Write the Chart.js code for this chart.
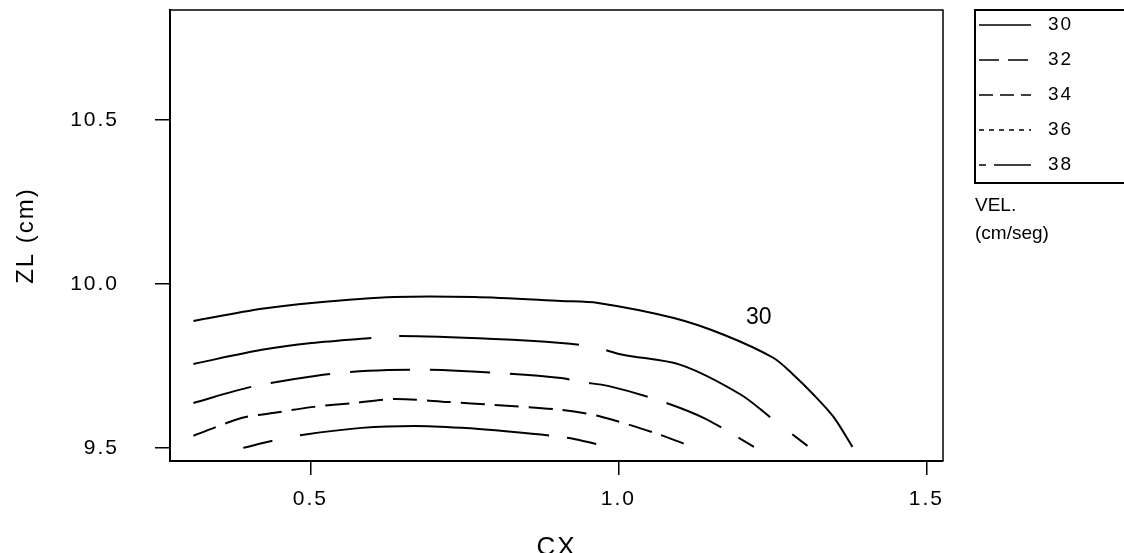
<!DOCTYPE html>
<html>
<head>
<meta charset="utf-8">
<script src="https://cdn.jsdelivr.net/npm/chart.js@4/dist/chart.umd.min.js"></script>
<style>
html,body{margin:0;padding:0;background:#fff}
#caixa{width:1124px;height:553px}
</style>
</head>
<body>
<div id="caixa"><canvas id="grafico"></canvas></div>
<script>

// isolinhas de velocidade (cm/seg), CX x ZL
let niveis = ["30","32","34","36","38"]

let cx30 = [0.310,0.421,0.502,0.636,0.766,0.907,0.967,1.090,1.171,1.252,1.284,1.317,1.349,1.380]
let zl30 = [9.887,9.924,9.942,9.960,9.960,9.948,9.942,9.896,9.845,9.774,9.723,9.662,9.595,9.503]

let cx32 = [0.310,0.421,0.502,0.599,0.644,0.798,0.907,0.959,1.007,1.101,1.199,1.252,1.307]
let zl32 = [9.756,9.799,9.820,9.835,9.841,9.832,9.820,9.808,9.784,9.753,9.662,9.585,9.506]

let cx34 = [0.310,0.404,0.510,0.594,0.691,0.798,0.907,0.939,0.983,1.064,1.139,1.220]
let zl34 = [9.637,9.686,9.720,9.735,9.738,9.729,9.713,9.701,9.689,9.646,9.591,9.503]

let cx36 = [0.310,0.388,0.442,0.505,0.571,0.636,0.724,0.798,0.907,0.972,1.058,1.121]
let zl36 = [9.537,9.591,9.607,9.625,9.637,9.649,9.640,9.631,9.616,9.595,9.546,9.503]

let cx38 = [0.391,0.437,0.489,0.583,0.669,0.745,0.826,0.891,0.928,0.983]
let zl38 = [9.500,9.521,9.540,9.561,9.567,9.561,9.549,9.537,9.527,9.503]

let ticksX = [0.5,1.0,1.5]
let ticksY = [9.5,10.0,10.5]

// rotulo da curva de 30
let rotulo = {texto:"30", cx:1.228, zl:9.896}

let tracos = [[], [180,28], [60,20], [24,10], [30,28,250,18]]
let tracosLegenda = [[], [20,9], [14,7], [5,5], [7,8,37,0]]

let series = [[cx30,zl30],[cx32,zl32],[cx34,zl34],[cx36,zl36],[cx38,zl38]]

let datasets = series.map((s,i)=>({
label: niveis[i],
data: s[0].map((x,k)=>({x:x, y:s[1][k]})),
showLine: true,
borderColor: "#000",
borderWidth: 2,
borderDash: tracos[i],
pointRadius: 0,
tension: 0.3
}))

let fonte = "'Liberation Sans', Arial, sans-serif"

let extras = {
id: "extras",
beforeDraw(chart){
chart.ctx.letterSpacing = "2px"
},
beforeDatasetsDraw(chart){
chart.ctx.letterSpacing = "0px"
},
afterDraw(chart){
let c = chart.ctx
let a = chart.chartArea
c.save()
c.letterSpacing = "0px"
c.strokeStyle = "#000"
c.lineWidth = 1.5
// lados de cima e da direita
c.beginPath()
c.moveTo(a.left, a.top)
c.lineTo(a.right, a.top)
c.lineTo(a.right, a.bottom)
c.stroke()

// rotulo "30" na curva
c.fillStyle = "#000"
c.font = "23px " + fonte
c.textAlign = "center"
c.textBaseline = "middle"
c.fillText(rotulo.texto, chart.scales.x.getPixelForValue(rotulo.cx), chart.scales.y.getPixelForValue(rotulo.zl))

// legenda
let lx = 975
c.lineWidth = 2
c.beginPath()
c.moveTo(1130, 10)
c.lineTo(lx, 10)
c.lineTo(lx, 183)
c.lineTo(1130, 183)
c.stroke()
c.font = "19px " + fonte
c.letterSpacing = "2px"
c.textAlign = "left"
niveis.forEach((n,i)=>{
let y = 25 + i*35
c.lineWidth = 1.6
c.setLineDash(tracosLegenda[i])
c.beginPath()
c.moveTo(lx+4, y)
c.lineTo(lx+56, y)
c.stroke()
c.setLineDash([])
c.fillText(n, lx+73, y)
})
c.letterSpacing = "0px"
c.font = "19px " + fonte
c.fillText("VEL.", lx, 206)
c.fillText("(cm/seg)", lx, 234)
c.restore()
}
}

let ctx = document.getElementById("grafico").getContext("2d")

let grafico = new Chart(ctx, {
type: "scatter",
data: {datasets: datasets},
options: {
responsive: true,
maintainAspectRatio: false,
animation: false,
devicePixelRatio: 1,
layout: {padding: {top:10, right:181, left:0, bottom:0}},
plugins: {legend:{display:false}, tooltip:{enabled:false}},
scales: {
x: {
type: "linear",
min: 0.272,
max: 1.527,
afterBuildTicks: s => { s.ticks = ticksX.map(v=>({value:v})) },
afterFit: s => { s.height = 92; s.paddingLeft = 0; s.paddingRight = 0 },
ticks: {autoSkip:false, maxRotation:0, padding:12, color:"#000",
font:{family:fonte, size:21}, callback: v => v.toFixed(1)},
grid: {drawOnChartArea:false, drawTicks:true, tickLength:14, color:"#000", lineWidth:1.5},
border: {display:true, color:"#000", width:2},
title: {display:true, text:"CX", color:"#000", padding:0,
font:{family:fonte, size:26, lineHeight:0.4}}
},
y: {
type: "linear",
min: 9.46,
max: 10.835,
afterBuildTicks: s => { s.ticks = ticksY.map(v=>({value:v})) },
afterFit: s => { s.width = 170; s.paddingTop = 0; s.paddingBottom = 0 },
ticks: {autoSkip:false, padding:36, color:"#000",
font:{family:fonte, size:21}, callback: v => v.toFixed(1)},
grid: {drawOnChartArea:false, drawTicks:true, tickLength:15, color:"#000", lineWidth:1.5},
border: {display:true, color:"#000", width:2},
title: {display:true, text:"ZL (cm)", color:"#000", padding:{top:12},
font:{family:fonte, size:24}}
}
}
},
plugins: [extras]
})

</script>
</body>
</html>
